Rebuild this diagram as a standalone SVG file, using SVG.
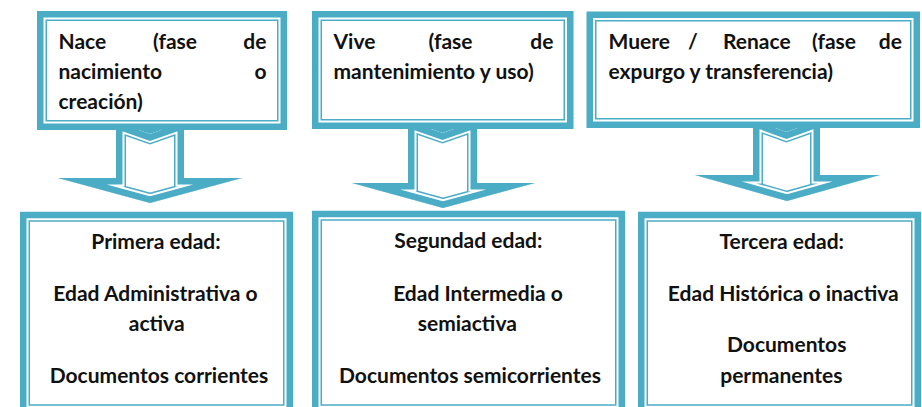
<svg xmlns="http://www.w3.org/2000/svg" xmlns:xlink="http://www.w3.org/1999/xlink" width="922" height="407" viewBox="0 0 922 407">
<style>
.thick{fill:#fff;stroke:#4BACC6;stroke-width:6.5}
.thin{fill:none;stroke:#4BACC6;stroke-width:1.5}
.t{font-family:Lato,"Liberation Sans",sans-serif;font-weight:bold;font-size:21px;fill:#111}
.m{text-anchor:middle}
.e{text-anchor:end}
.fill{fill:#4BACC6}
</style>
<defs>
<polygon id="pA" points="116,122 150,134 184,122 184,178 242,178 150,203 58,178 116,178"/>
<polygon id="pB" points="408,121 442.5,133 477,121 477,183 535,183 443,208 352,183 408,183"/>
<polygon id="pC" points="753,120 786.5,132 820,120 820,175 880,175 787,201 695,175 753,175"/>
<clipPath id="cA"><use xlink:href="#pA"/></clipPath>
<clipPath id="cB"><use xlink:href="#pB"/></clipPath>
<clipPath id="cC"><use xlink:href="#pC"/></clipPath>
</defs>
<rect width="922" height="407" fill="#fff"/>
<g id="connectors" stroke-linejoin="miter" stroke-miterlimit="20">
<g id="arrowA">
<rect class="fill" x="116" y="124" width="68" height="14"/>
<use xlink:href="#pA" fill="#fff"/>
<use xlink:href="#pA" fill="none" stroke="#4BACC6" stroke-width="20" clip-path="url(#cA)"/>
<use xlink:href="#pA" fill="none" stroke="#fff" stroke-width="17" clip-path="url(#cA)"/>
<use xlink:href="#pA" fill="none" stroke="#4BACC6" stroke-width="13" clip-path="url(#cA)"/>
</g>
<g id="arrowB">
<rect class="fill" x="408" y="123" width="69" height="14"/>
<use xlink:href="#pB" fill="#fff"/>
<use xlink:href="#pB" fill="none" stroke="#4BACC6" stroke-width="20" clip-path="url(#cB)"/>
<use xlink:href="#pB" fill="none" stroke="#fff" stroke-width="17" clip-path="url(#cB)"/>
<use xlink:href="#pB" fill="none" stroke="#4BACC6" stroke-width="13" clip-path="url(#cB)"/>
</g>
<g id="arrowC">
<rect class="fill" x="753" y="122" width="67" height="14"/>
<use xlink:href="#pC" fill="#fff"/>
<use xlink:href="#pC" fill="none" stroke="#4BACC6" stroke-width="20" clip-path="url(#cC)"/>
<use xlink:href="#pC" fill="none" stroke="#fff" stroke-width="17" clip-path="url(#cC)"/>
<use xlink:href="#pC" fill="none" stroke="#4BACC6" stroke-width="13" clip-path="url(#cC)"/>
</g>
</g>
<g id="nace">
<rect class="thick" x="40.25" y="14.25" width="243.5" height="112.5"/>
<rect class="thin" x="46.25" y="20.25" width="231.5" height="100.5"/>
<text class="t" x="58.5" y="48.5">Nace</text>
<text class="t" x="153" y="48.5">(fase</text>
<text class="t e" x="266.5" y="48.5">de</text>
<text class="t" x="58.5" y="79">nacimiento</text>
<text class="t e" x="266.5" y="79">o</text>
<text class="t" x="58.5" y="109">creación)</text>
</g>
<g id="vive">
<rect class="thick" x="315.25" y="14.25" width="255" height="111.5"/>
<rect class="thin" x="321.25" y="20.25" width="243" height="99.5"/>
<text class="t" x="333.5" y="48.5">Vive</text>
<text class="t" x="428.5" y="48.5">(fase</text>
<text class="t e" x="553.5" y="48.5">de</text>
<text class="t" x="333.5" y="79">mantenimiento y uso)</text>
</g>
<g id="muere">
<rect class="thick" x="589.75" y="14.75" width="327" height="110"/>
<rect class="thin" x="595.75" y="20.75" width="315" height="98"/>
<text class="t" x="608.5" y="48.5">Muere</text>
<text class="t" x="688" y="48.5">/</text>
<text class="t" x="723" y="48.5">Renace</text>
<text class="t" x="812" y="48.5">(fase</text>
<text class="t e" x="902" y="48.5">de</text>
<text class="t" x="608.5" y="79">expurgo y transferencia)</text>
</g>
<g id="primera">
<rect class="thick" x="23.25" y="215" width="266.5" height="200"/>
<rect class="thin" x="29.25" y="221" width="254.5" height="184"/>
<text class="t m" x="156" y="248.5">Primera edad:</text>
<text class="t m" x="155.5" y="300.5">Edad Administrativa o</text>
<text class="t m" x="156.7" y="331">activa</text>
<text class="t m" x="159" y="382.5">Documentos corrientes</text>
</g>
<g id="segunda">
<rect class="thick" x="315.25" y="214" width="306.5" height="201"/>
<rect class="thin" x="321.25" y="220" width="294.5" height="185"/>
<text class="t m" x="468.3" y="247.5">Segundad edad:</text>
<text class="t m" x="478" y="300.5">Edad Intermedia o</text>
<text class="t m" x="467.3" y="331">semiactiva</text>
<text class="t m" x="470" y="382.5">Documentos semicorrientes</text>
</g>
<g id="tercera">
<rect class="thick" x="641.25" y="215" width="276.5" height="200"/>
<rect class="thin" x="647.25" y="221" width="264.5" height="184"/>
<text class="t m" x="781.7" y="248.5">Tercera edad:</text>
<text class="t m" x="783.3" y="300.5">Edad Histórica o inactiva</text>
<text class="t m" x="786.7" y="351.5">Documentos</text>
<text class="t m" x="781.3" y="382.5">permanentes</text>
</g>
</svg>
